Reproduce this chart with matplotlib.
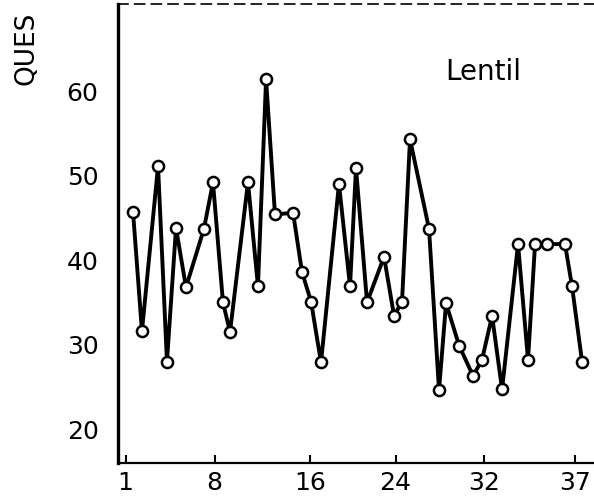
import matplotlib
matplotlib.use("Agg")
import matplotlib.pyplot as plt

# ── Data ─────────────────────────────────────────────────────────
sample_pos = [1.94, 2.70, 4.07, 4.83, 5.60, 6.45, 7.98, 8.75, 9.60, 10.20,
              11.73, 12.58, 13.27, 14.03, 15.57, 16.33, 17.10, 17.95, 19.48, 20.42,
              20.93, 21.87, 23.32, 24.17, 24.85, 25.53, 27.15, 28.00, 28.60, 29.71,
              30.90, 31.66, 32.52, 33.37, 34.73, 35.58, 36.18, 37.20, 38.73, 39.33,
              40.18]
scores = [45.7, 31.6, 51.1, 28.0, 43.8, 36.8, 43.7, 49.2, 35.0, 31.5,
          49.2, 36.9, 61.4, 45.4, 45.6, 38.6, 35.1, 27.9, 49.0, 36.9,
          50.9, 35.0, 40.4, 33.4, 35.1, 54.3, 43.7, 24.6, 34.9, 29.9,
          26.3, 28.2, 33.4, 24.7, 41.9, 28.2, 41.9, 41.9, 41.9, 36.9,
          28.0]

xtick_pos = [1.3, 8.9, 17.0, 24.3, 31.8, 39.6]
xtick_labels = ["1", "8", "16", "24", "32", "37"]
ytick_vals = [20, 30, 40, 50, 60]

plt.rcParams["font.family"] = "DejaVu Sans"

fig = plt.figure(figsize=(5.94, 5.03), dpi=100)
ax = fig.add_axes([118 / 594, 40 / 503, 1 - 118 / 594, 459 / 503])

ax.plot(sample_pos, scores, color="black", linewidth=2.8,
        marker="o", markersize=8, markerfacecolor="white",
        markeredgecolor="black", markeredgewidth=1.8, zorder=3)

ax.set_xlim(0.66, 41.2)
ax.set_ylim(16.0, 70.3)

ax.set_xticks(xtick_pos)
ax.set_xticklabels(xtick_labels)
ax.set_yticks(ytick_vals)
ax.tick_params(axis="x", direction="in", length=6, width=1.5, pad=6, labelsize=18)
ax.tick_params(axis="y", direction="in", length=0, pad=14, labelsize=18)

ax.spines["right"].set_visible(False)
ax.spines["left"].set_linewidth(2.4)
ax.spines["bottom"].set_linewidth(1.6)
ax.spines["top"].set_linewidth(1.2)
ax.spines["top"].set_linestyle((0, (6, 4)))

ax.text(0.687, 0.852, "Lentil", transform=ax.transAxes, fontsize=20,
        ha="left", va="center")

fig.text(27 / 594, 1 - 85 / 503, "QUES", rotation=90, fontsize=19,
         ha="center", va="bottom")

fig.savefig("out.png", dpi=100)
